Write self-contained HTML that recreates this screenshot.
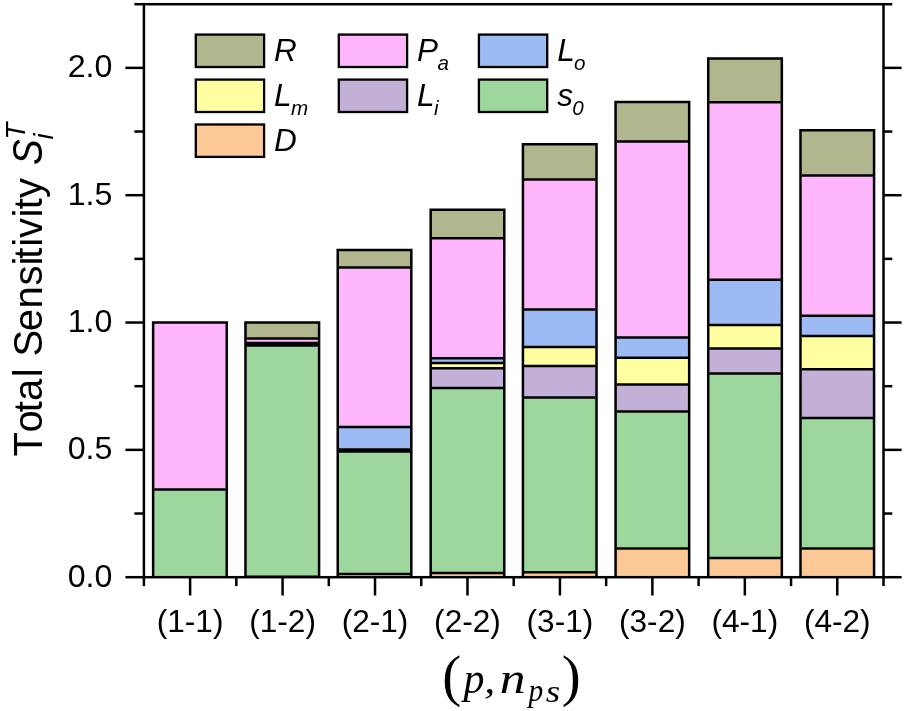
<!DOCTYPE html>
<html><head><meta charset="utf-8"><title>Total Sensitivity</title>
<style>html,body{margin:0;padding:0;background:#fff}svg{display:block}text{font-family:"Liberation Sans",sans-serif;fill:#000;font-kerning:none}.it{font-style:italic}.ser{font-family:"Liberation Serif","DejaVu Serif",serif}</style></head><body>
<svg width="905" height="711" viewBox="0 0 905 711">
<rect width="905" height="711" fill="#fff"/>
<g><rect x="153.12" y="489.49" width="73.60" height="87.71" fill="#9DD79D"/><rect x="153.12" y="322.53" width="73.60" height="166.96" fill="#FDB6F9"/><rect x="245.48" y="576.69" width="73.60" height="0.51" fill="#FCC896"/><rect x="245.48" y="345.50" width="73.60" height="231.19" fill="#9DD79D"/><rect x="245.48" y="344.69" width="73.60" height="0.81" fill="#C2B0D6"/><rect x="245.48" y="343.93" width="73.60" height="0.76" fill="#FFFEA0"/><rect x="245.48" y="342.91" width="73.60" height="1.02" fill="#9CBAF3"/><rect x="245.48" y="338.45" width="73.60" height="4.46" fill="#FDB6F9"/><rect x="245.48" y="322.53" width="73.60" height="15.92" fill="#B1B68F"/><rect x="337.72" y="574.02" width="73.60" height="3.18" fill="#FCC896"/><rect x="337.72" y="451.50" width="73.60" height="122.52" fill="#9DD79D"/><rect x="337.72" y="450.50" width="73.60" height="0.99" fill="#C2B0D6"/><rect x="337.72" y="449.48" width="73.60" height="1.02" fill="#FFFEA0"/><rect x="337.72" y="427.00" width="73.60" height="22.49" fill="#9CBAF3"/><rect x="337.72" y="267.60" width="73.60" height="159.40" fill="#FDB6F9"/><rect x="337.72" y="249.95" width="73.60" height="17.65" fill="#B1B68F"/><rect x="430.68" y="573.00" width="73.60" height="4.20" fill="#FCC896"/><rect x="430.68" y="387.98" width="73.60" height="185.02" fill="#9DD79D"/><rect x="430.68" y="368.37" width="73.60" height="19.61" fill="#C2B0D6"/><rect x="430.68" y="363.10" width="73.60" height="5.27" fill="#FFFEA0"/><rect x="430.68" y="358.19" width="73.60" height="4.92" fill="#9CBAF3"/><rect x="430.68" y="238.32" width="73.60" height="119.87" fill="#FDB6F9"/><rect x="430.68" y="209.79" width="73.60" height="28.52" fill="#B1B68F"/><rect x="522.93" y="572.21" width="73.60" height="4.99" fill="#FCC896"/><rect x="522.93" y="397.51" width="73.60" height="174.70" fill="#9DD79D"/><rect x="522.93" y="365.90" width="73.60" height="31.60" fill="#C2B0D6"/><rect x="522.93" y="346.90" width="73.60" height="19.00" fill="#FFFEA0"/><rect x="522.93" y="309.60" width="73.60" height="37.31" fill="#9CBAF3"/><rect x="522.93" y="179.61" width="73.60" height="129.98" fill="#FDB6F9"/><rect x="522.93" y="144.32" width="73.60" height="35.30" fill="#B1B68F"/><rect x="615.58" y="548.60" width="73.60" height="28.60" fill="#FCC896"/><rect x="615.58" y="411.51" width="73.60" height="137.09" fill="#9DD79D"/><rect x="615.58" y="384.39" width="73.60" height="27.12" fill="#C2B0D6"/><rect x="615.58" y="357.70" width="73.60" height="26.69" fill="#FFFEA0"/><rect x="615.58" y="337.51" width="73.60" height="20.20" fill="#9CBAF3"/><rect x="615.58" y="141.52" width="73.60" height="195.99" fill="#FDB6F9"/><rect x="615.58" y="101.99" width="73.60" height="39.52" fill="#B1B68F"/><rect x="708.23" y="557.90" width="73.60" height="19.30" fill="#FCC896"/><rect x="708.23" y="373.49" width="73.60" height="184.40" fill="#9DD79D"/><rect x="708.23" y="348.41" width="73.60" height="25.08" fill="#C2B0D6"/><rect x="708.23" y="325.08" width="73.60" height="23.33" fill="#FFFEA0"/><rect x="708.23" y="279.80" width="73.60" height="45.28" fill="#9CBAF3"/><rect x="708.23" y="102.20" width="73.60" height="177.60" fill="#FDB6F9"/><rect x="708.23" y="58.42" width="73.60" height="43.78" fill="#B1B68F"/><rect x="800.48" y="548.45" width="73.60" height="28.75" fill="#FCC896"/><rect x="800.48" y="418.01" width="73.60" height="130.44" fill="#9DD79D"/><rect x="800.48" y="369.29" width="73.60" height="48.72" fill="#C2B0D6"/><rect x="800.48" y="336.11" width="73.60" height="33.18" fill="#FFFEA0"/><rect x="800.48" y="315.81" width="73.60" height="20.30" fill="#9CBAF3"/><rect x="800.48" y="175.51" width="73.60" height="140.30" fill="#FDB6F9"/><rect x="800.48" y="130.21" width="73.60" height="45.31" fill="#B1B68F"/></g>
<g stroke="#000" stroke-width="2.5" fill="none" stroke-linejoin="miter" stroke-linecap="butt"><path d="M153.12 577.20V322.53H226.73V577.20"/><path d="M154.18 489.49H225.68"/><path d="M245.48 577.20V322.53H319.08V577.20"/><path d="M246.53 576.69H318.03"/><path d="M246.53 345.50H318.03"/><path d="M246.53 344.69H318.03"/><path d="M246.53 343.93H318.03"/><path d="M246.53 342.91H318.03"/><path d="M246.53 338.45H318.03"/><path d="M337.72 577.20V249.95H411.32V577.20"/><path d="M338.77 574.02H410.27"/><path d="M338.77 451.50H410.27"/><path d="M338.77 450.50H410.27"/><path d="M338.77 449.48H410.27"/><path d="M338.77 427.00H410.27"/><path d="M338.77 267.60H410.27"/><path d="M430.68 577.20V209.79H504.28V577.20"/><path d="M431.73 573.00H503.23"/><path d="M431.73 387.98H503.23"/><path d="M431.73 368.37H503.23"/><path d="M431.73 363.10H503.23"/><path d="M431.73 358.19H503.23"/><path d="M431.73 238.32H503.23"/><path d="M522.93 577.20V144.32H596.52V577.20"/><path d="M523.98 572.21H595.48"/><path d="M523.98 397.51H595.48"/><path d="M523.98 365.90H595.48"/><path d="M523.98 346.90H595.48"/><path d="M523.98 309.60H595.48"/><path d="M523.98 179.61H595.48"/><path d="M615.58 577.20V101.99H689.17V577.20"/><path d="M616.62 548.60H688.12"/><path d="M616.62 411.51H688.12"/><path d="M616.62 384.39H688.12"/><path d="M616.62 357.70H688.12"/><path d="M616.62 337.51H688.12"/><path d="M616.62 141.52H688.12"/><path d="M708.23 577.20V58.42H781.83V577.20"/><path d="M709.28 557.90H780.78"/><path d="M709.28 373.49H780.78"/><path d="M709.28 348.41H780.78"/><path d="M709.28 325.08H780.78"/><path d="M709.28 279.80H780.78"/><path d="M709.28 102.20H780.78"/><path d="M800.48 577.20V130.21H874.07V577.20"/><path d="M801.52 548.45H873.02"/><path d="M801.52 418.01H873.02"/><path d="M801.52 369.29H873.02"/><path d="M801.52 336.11H873.02"/><path d="M801.52 315.81H873.02"/><path d="M801.52 175.51H873.02"/></g>
<g stroke="#000" stroke-width="2.5" fill="none" stroke-linecap="butt">
<rect x="143.90" y="4.20" width="739.60" height="573.00"/>
<path d="M125.40 577.20H143.90"/>
<path d="M883.50 577.20H901.60"/>
<path d="M134.40 513.53H143.90"/>
<path d="M883.50 513.53H892.30"/>
<path d="M125.40 449.87H143.90"/>
<path d="M883.50 449.87H901.60"/>
<path d="M134.40 386.20H143.90"/>
<path d="M883.50 386.20H892.30"/>
<path d="M125.40 322.53H143.90"/>
<path d="M883.50 322.53H901.60"/>
<path d="M134.40 258.87H143.90"/>
<path d="M883.50 258.87H892.30"/>
<path d="M125.40 195.20H143.90"/>
<path d="M883.50 195.20H901.60"/>
<path d="M134.40 131.53H143.90"/>
<path d="M883.50 131.53H892.30"/>
<path d="M125.40 67.87H143.90"/>
<path d="M883.50 67.87H901.60"/>
<path d="M134.40 4.20H143.90"/>
<path d="M883.50 4.20H892.30"/>
<path d="M190.12 577.20V595.50"/>
<path d="M282.58 577.20V595.50"/>
<path d="M375.02 577.20V595.50"/>
<path d="M467.48 577.20V595.50"/>
<path d="M559.93 577.20V595.50"/>
<path d="M652.38 577.20V595.50"/>
<path d="M744.83 577.20V595.50"/>
<path d="M837.27 577.20V595.50"/>
<path d="M143.90 577.20V586.10"/>
<path d="M236.35 577.20V586.10"/>
<path d="M328.80 577.20V586.10"/>
<path d="M421.25 577.20V586.10"/>
<path d="M513.70 577.20V586.10"/>
<path d="M606.15 577.20V586.10"/>
<path d="M698.60 577.20V586.10"/>
<path d="M791.05 577.20V586.10"/>
<path d="M883.50 577.20V586.10"/>
</g>
<g font-size="32.2" text-anchor="end">
<text x="112.4" y="586.60">0.0</text>
<text x="112.4" y="459.27">0.5</text>
<text x="112.4" y="331.93">1.0</text>
<text x="112.4" y="204.60">1.5</text>
<text x="112.4" y="77.27">2.0</text>
</g>
<g font-size="31.6" text-anchor="middle">
<text x="190.12" y="632">(1-1)</text>
<text x="282.58" y="632">(1-2)</text>
<text x="375.02" y="632">(2-1)</text>
<text x="467.48" y="632">(2-2)</text>
<text x="559.93" y="632">(3-1)</text>
<text x="652.38" y="632">(3-2)</text>
<text x="744.83" y="632">(4-1)</text>
<text x="837.27" y="632">(4-2)</text>
</g>
<g transform="translate(41.7 456.5) rotate(-90)"><text x="0.0 24.1 44.3 55.6 79.2 88.9 100.0 125.2 148.0 170.9 190.9 197.8 209.8 218.6 239.1 247.3 258.4" y="0" font-size="40">Total Sensitivity</text>
<text class="it" transform="translate(291.6 0) scale(0.965 1.04)" font-size="40">S</text>
<text class="it" x="317.1" y="-16.4" font-size="27.4">T</text>
<text class="it" x="317.1" y="11.3" font-size="27.4">i</text></g>
<text class="ser"><tspan x="442.34" y="694.54" font-size="57.24" font-style="normal" textLength="18.94" lengthAdjust="spacingAndGlyphs">(</tspan><tspan x="463.51" y="692.89" font-size="43.81" font-style="italic" textLength="20.95" lengthAdjust="spacingAndGlyphs">p</tspan><tspan x="484.27" y="692.78" font-size="38.82" font-style="italic" textLength="10.97" lengthAdjust="spacingAndGlyphs">,</tspan><tspan x="499.69" y="693.20" font-size="43.40" font-style="italic" textLength="25.80" lengthAdjust="spacingAndGlyphs">n</tspan><tspan x="528.39" y="701.10" font-size="31.06" font-style="italic" textLength="14.69" lengthAdjust="spacingAndGlyphs">p</tspan><tspan x="545.74" y="701.58" font-size="31.67" font-style="italic" textLength="14.44" lengthAdjust="spacingAndGlyphs">s</tspan><tspan x="561.74" y="694.54" font-size="57.24" font-style="normal" textLength="19.01" lengthAdjust="spacingAndGlyphs">)</tspan></text>
<g stroke="#000" stroke-width="2.3">
<rect x="195.80" y="34.60" width="68.30" height="32.40" fill="#B1B68F"/>
<rect x="338.80" y="34.60" width="68.30" height="32.40" fill="#FDB6F9"/>
<rect x="478.90" y="34.60" width="68.30" height="32.40" fill="#9CBAF3"/>
<rect x="195.80" y="79.60" width="68.30" height="32.40" fill="#FFFEA0"/>
<rect x="338.80" y="79.60" width="68.30" height="32.40" fill="#C2B0D6"/>
<rect x="478.90" y="79.60" width="68.30" height="32.40" fill="#9DD79D"/>
<rect x="195.80" y="124.50" width="68.30" height="32.40" fill="#FCC896"/>
</g>
<g class="it" font-size="31.5">
<text x="274.10" y="60.90">R</text>
<text x="417.10" y="60.90">P<tspan font-size="20.6" dx="-0.7" dy="8.6">a</tspan></text>
<text x="557.20" y="60.90">L<tspan font-size="20.6" dx="-0.7" dy="8.6">o</tspan></text>
<text x="274.10" y="105.90">L<tspan font-size="20.6" dx="-0.7" dy="8.6">m</tspan></text>
<text x="417.10" y="105.90">L<tspan font-size="20.6" dx="-0.7" dy="8.6">i</tspan></text>
<text x="557.20" y="105.90">s<tspan font-size="20.6" dx="-0.7" dy="8.6">0</tspan></text>
<text x="274.10" y="150.80">D</text>
</g>
</svg></body></html>
